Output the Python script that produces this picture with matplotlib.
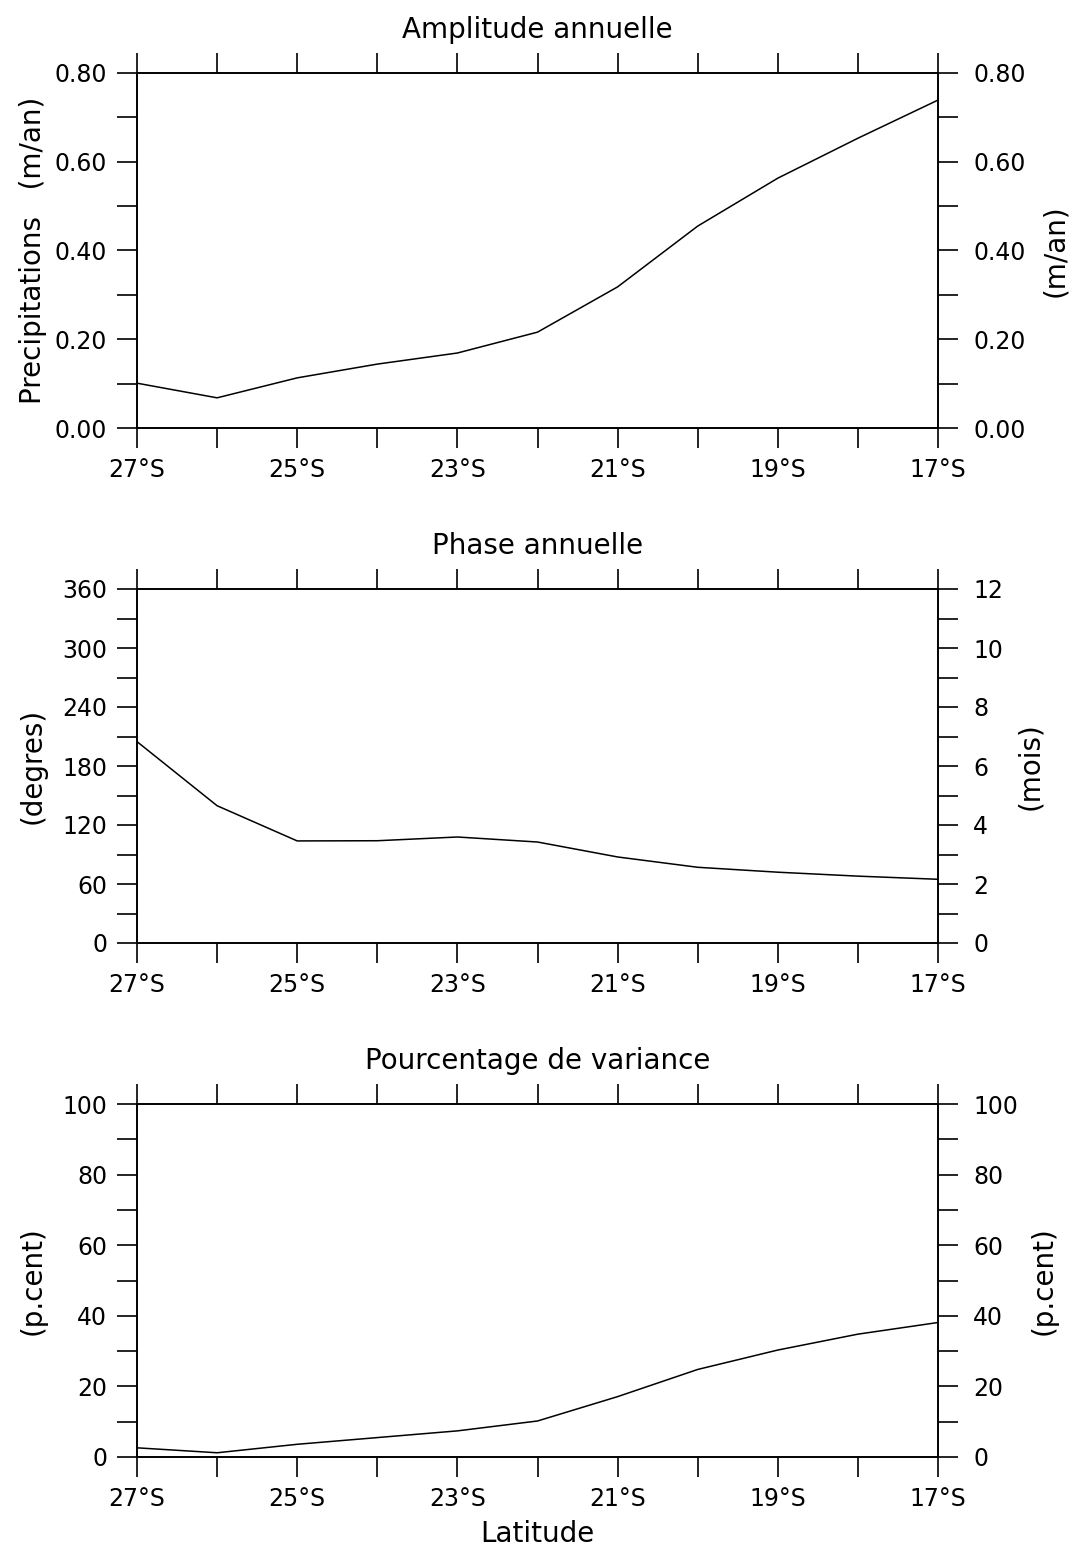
import matplotlib
matplotlib.use("Agg")
import matplotlib.pyplot as plt
from matplotlib.ticker import MultipleLocator, FixedLocator, FuncFormatter, FormatStrFormatter

plt.rcParams['font.family'] = ['DejaVu Sans']

latitudes = [-27, -26, -25, -24, -23, -22, -21, -20, -19, -18, -17]
lat_ticks = [-27, -25, -23, -21, -19, -17]
amplitude = [0.101, 0.068, 0.113, 0.144, 0.169, 0.216, 0.318, 0.455, 0.563, 0.653, 0.739]
phase = [204.8, 139.6, 103.8, 104.0, 107.8, 102.7, 87.5, 77.0, 72.0, 68.0, 64.8]
variance = [2.6, 1.2, 3.6, 5.5, 7.4, 10.2, 17.1, 24.8, 30.3, 34.8, 38.1]

titles = ["Amplitude annuelle", "Phase annuelle", "Pourcentage de variance"]
left_labels = ["Precipitations   (m/an)", "(degres)", "(p.cent)"]
right_labels = ["(m/an)", "(mois)", "(p.cent)"]

W, H = 1075, 1550
fig = plt.figure(figsize=(W / 100, H / 100), dpi=100)

panels = [(73, 428), (589, 943), (1104, 1457)]
x0, x1 = 137, 938
right_label_x = [1041, 1016, 1030]

FS = 17
LFS = 20
TFS = 20
TL = 14.4

def lat_fmt(v, pos):
    return f"{abs(int(round(v)))}°S"

specs = [
    dict(data=amplitude, ylim=(0, 0.8), major=0.2, minor=0.1, fmt="%.2f",
         rlim=(0, 0.8), rmajor=0.2, rminor=0.1, rfmt="%.2f"),
    dict(data=phase, ylim=(0, 360), major=60, minor=30, fmt="%d",
         rlim=(0, 12), rmajor=2, rminor=1, rfmt="%d"),
    dict(data=variance, ylim=(0, 100), major=20, minor=10, fmt="%d",
         rlim=(0, 100), rmajor=20, rminor=10, rfmt="%d"),
]

aw = x1 - x0
for i, ((top, bot), sp) in enumerate(zip(panels, specs)):
    ax = fig.add_axes([x0 / W, 1 - bot / H, aw / W, (bot - top) / H])
    ax.plot(latitudes, sp["data"], color="black", lw=1.1)
    ax.set_xlim(-27, -17)
    ax.set_ylim(*sp["ylim"])
    ax.xaxis.set_major_locator(FixedLocator(lat_ticks))
    ax.xaxis.set_minor_locator(MultipleLocator(1))
    ax.xaxis.set_major_formatter(FuncFormatter(lat_fmt))
    ax.yaxis.set_major_locator(MultipleLocator(sp["major"]))
    ax.yaxis.set_minor_locator(MultipleLocator(sp["minor"]))
    ax.yaxis.set_major_formatter(FormatStrFormatter(sp["fmt"]))
    ax.tick_params(axis="both", which="both", direction="out", length=TL,
                   width=1.2, labelsize=FS, top=True, right=False)
    ax.tick_params(axis="x", which="both", pad=7)
    ax.tick_params(axis="y", which="both", pad=7)
    for s in ax.spines.values():
        s.set_linewidth(1.2)
    ax.set_title(titles[i], fontsize=TFS, pad=25)
    ax.set_ylabel(left_labels[i], fontsize=LFS)
    ax.yaxis.set_label_coords((47 - x0) / aw, 0.5)

    ax2 = ax.twinx()
    ax2.set_ylim(*sp["rlim"])
    ax2.yaxis.set_major_locator(MultipleLocator(sp["rmajor"]))
    ax2.yaxis.set_minor_locator(MultipleLocator(sp["rminor"]))
    ax2.yaxis.set_major_formatter(FormatStrFormatter(sp["rfmt"]))
    ax2.tick_params(axis="y", which="both", direction="out", length=TL,
                    width=1.2, labelsize=FS, pad=11)
    for s in ax2.spines.values():
        s.set_linewidth(1.2)
    ax2.set_ylabel(right_labels[i], fontsize=LFS)
    ax2.yaxis.set_label_coords((right_label_x[i] - x0) / aw, 0.5)

    if i == 2:
        ax.set_xlabel("Latitude", fontsize=TFS, labelpad=7)

fig.savefig("out.png", dpi=100)
